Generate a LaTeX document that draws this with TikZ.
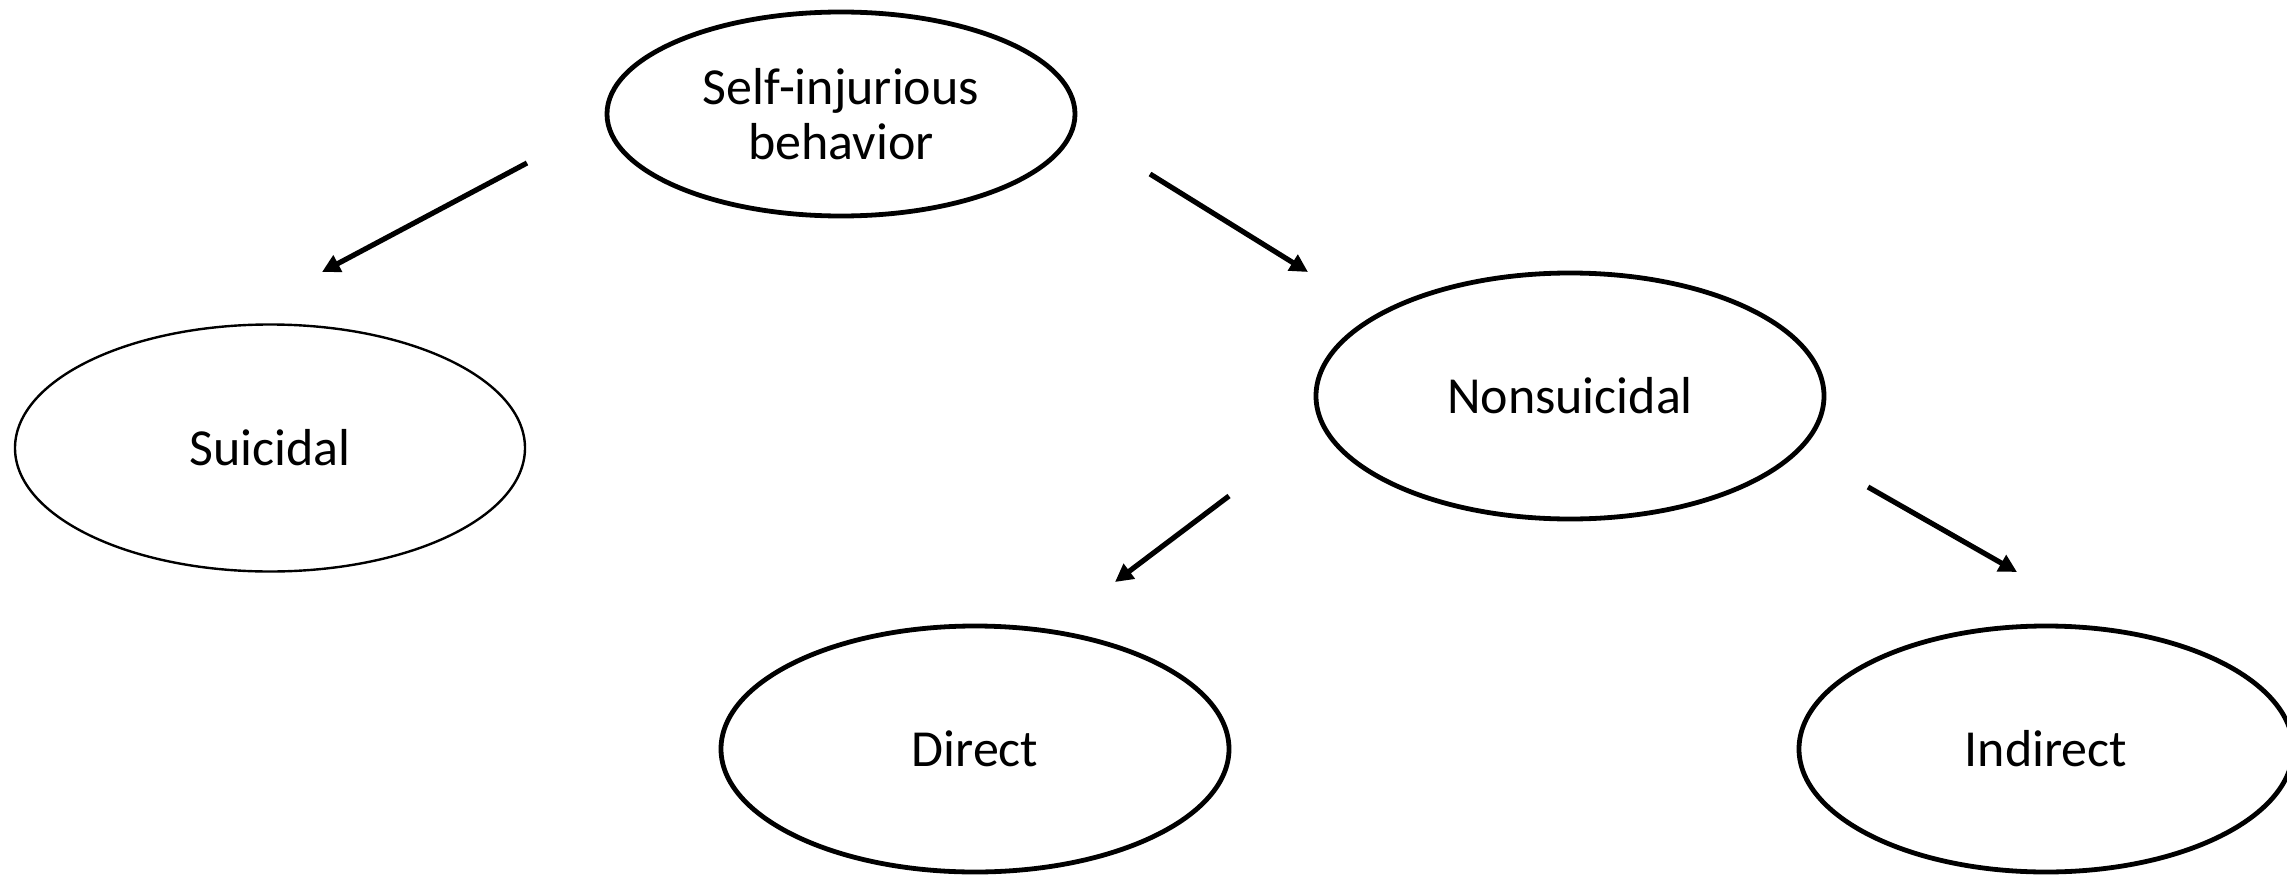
\documentclass[tikz,border=0pt]{standalone}
\usepackage{fontspec}
\setmainfont{Carlito}
\usetikzlibrary{arrows.meta,shapes.geometric}
\tikzset{
  oval/.style={ellipse, draw, line width=4.8pt, inner sep=0pt,
    minimum width=508pt, minimum height=246pt,
    font=\fontsize{52}{55}\selectfont, align=center},
  link/.style={line width=5.2pt, -{Triangle[length=18pt,width=18pt]}}
}
\begin{document}
\begin{tikzpicture}[x=1pt,y=-1pt]
\clip (0,0) rectangle (2287,875);
\node [oval, minimum width=468pt, minimum height=204pt] (SIB) at (841,114) {Self-injurious\\behavior};
\node [oval, line width=2.4pt, minimum width=510pt, minimum height=247pt] (Sui) at (270,448) {Suicidal};
\node [oval] (Non) at (1570,396) {Nonsuicidal};
\node [oval] (Dir) at (975,749) {Direct};
\node [oval, minimum width=494pt] (Ind) at (2046,749) {Indirect};

\coordinate (A) at (527,163);
\coordinate (B) at (322,272);
\coordinate (C) at (1150,174);
\coordinate (D) at (1308,272);
\coordinate (E) at (1229,496);
\coordinate (F) at (1115,582);
\coordinate (G) at (1868,487);
\coordinate (H) at (2017,572);

\draw [link] (A) -- (B);
\draw [link] (C) -- (D);
\draw [link] (E) -- (F);
\draw [link] (G) -- (H);
\end{tikzpicture}
\end{document}
